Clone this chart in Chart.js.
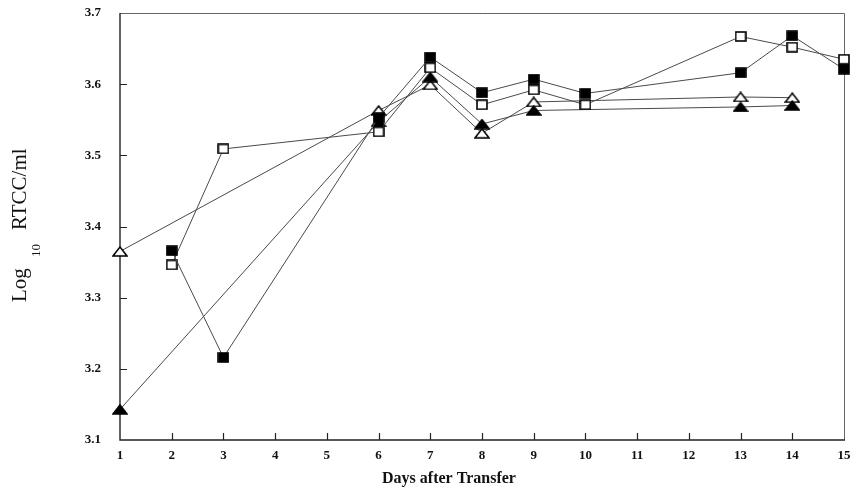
<!DOCTYPE html>
<html>
<head>
<meta charset="utf-8">
<script src="https://cdn.jsdelivr.net/npm/chart.js@4/dist/chart.umd.min.js"></script>
<style>
  html, body { margin: 0; padding: 0; background: #fff; }
  #wrap { width: 853px; height: 490px; }
</style>
</head>
<body>
<div id="wrap"><canvas id="c" width="853" height="490"></canvas></div>
<script>
// Log10 RTCC/ml by day after transfer, four groups
const filledSqDays = [2, 3, 6, 7, 8, 9, 10, 13, 14, 15];
const filledSqVals = [3.366, 3.216, 3.553, 3.638, 3.588, 3.607, 3.587, 3.616, 3.668, 3.621];

const openSqDays = [2, 3, 6, 7, 8, 9, 10, 13, 14, 15];
const openSqVals = [3.346, 3.509, 3.533, 3.623, 3.571, 3.592, 3.571, 3.667, 3.652, 3.635];

const openTriDays = [1, 6, 7, 8, 9, 13, 14];
const openTriVals = [3.365, 3.563, 3.599, 3.531, 3.575, 3.582, 3.581];

const filledTriDays = [1, 6, 7, 8, 9, 13, 14];
const filledTriVals = [3.143, 3.547, 3.610, 3.544, 3.563, 3.568, 3.570];

const dayTicks = [1, 2, 3, 4, 5, 6, 7, 8, 9, 10, 11, 12, 13, 14, 15];
const logTicks = [3.1, 3.2, 3.3, 3.4, 3.5, 3.6, 3.7];

const pairs = (xs, ys) => xs.map((d, i) => ({ x: d, y: ys[i] }));

// marker sprites
function squareMarker(filled) {
  const c = document.createElement('canvas');
  c.width = 12; c.height = 11;
  const g = c.getContext('2d');
  g.fillStyle = filled ? '#000' : '#fff';
  g.fillRect(1, 1, 10, 9);
  g.strokeStyle = '#000';
  g.lineWidth = 1.6;
  g.strokeRect(1, 1, 10, 9);
  return c;
}
function triangleMarker(filled) {
  const c = document.createElement('canvas');
  c.width = 16; c.height = 11;
  const g = c.getContext('2d');
  g.beginPath();
  g.moveTo(8, 1); g.lineTo(15, 10); g.lineTo(1, 10); g.closePath();
  g.fillStyle = filled ? '#000' : '#fff';
  g.fill();
  g.strokeStyle = '#000';
  g.lineWidth = 1.5;
  g.lineJoin = 'miter';
  g.stroke();
  return c;
}

const lineColor = '#4a4a4a';
function series(label, xs, ys, marker) {
  return {
    label,
    data: pairs(xs, ys),
    borderColor: lineColor,
    borderWidth: 1,
    pointStyle: marker,
    pointRadius: 6,
    pointHoverRadius: 6,
    tension: 0,
    fill: false,
    clip: false
  };
}

const serif = '"Liberation Serif", "DejaVu Serif", serif';

const framePlugin = {
  id: 'frame',
  beforeDatasetsDraw(chart) {
    const { ctx, chartArea: a, scales } = chart;
    const xs = scales.x, ys = scales.y;
    ctx.save();
    // top and right border
    ctx.strokeStyle = '#666';
    ctx.lineWidth = 1;
    ctx.beginPath();
    ctx.moveTo(a.left, a.top + 0.5);
    ctx.lineTo(a.right + 0.5, a.top + 0.5);
    ctx.lineTo(a.right + 0.5, a.bottom);
    ctx.stroke();
    // axes
    ctx.strokeStyle = '#222';
    ctx.lineWidth = 1.4;
    ctx.beginPath();
    ctx.moveTo(a.left, a.top);
    ctx.lineTo(a.left, a.bottom);
    ctx.lineTo(a.right + 1, a.bottom);
    ctx.stroke();
    // inward tick marks
    ctx.lineWidth = 1.2;
    ctx.beginPath();
    dayTicks.slice(1, -1).forEach(d => {
      const px = Math.round(xs.getPixelForValue(d)) + 0.5;
      ctx.moveTo(px, a.bottom);
      ctx.lineTo(px, a.bottom - 7);
    });
    logTicks.slice(1, -1).forEach(v => {
      const py = Math.round(ys.getPixelForValue(v)) + 0.5;
      ctx.moveTo(a.left, py);
      ctx.lineTo(a.left + 7, py);
    });
    ctx.stroke();
    ctx.restore();
  },
  afterDraw(chart) {
    const { ctx } = chart;
    ctx.save();
    ctx.fillStyle = '#111';
    // x-axis title
    ctx.font = 'bold 16px ' + serif;
    ctx.textAlign = 'center';
    ctx.textBaseline = 'alphabetic';
    ctx.fillText('Days after Transfer', 449, 483);
    // y-axis title with subscript
    ctx.translate(26, 302);
    ctx.rotate(-Math.PI / 2);
    ctx.textAlign = 'left';
    ctx.font = '21px ' + serif;
    ctx.fillText('Log', 0, 0);
    ctx.font = '13px ' + serif;
    ctx.fillText('10', 45, 14);
    ctx.font = '21px ' + serif;
    ctx.fillText('RTCC/ml', 72, 0);
    ctx.restore();
  }
};

new Chart(document.getElementById('c'), {
  type: 'line',
  data: {
    datasets: [
      series('filled square', filledSqDays, filledSqVals, squareMarker(true)),
      series('open square', openSqDays, openSqVals, squareMarker(false)),
      series('filled triangle', filledTriDays, filledTriVals, triangleMarker(true)),
      series('open triangle', openTriDays, openTriVals, triangleMarker(false))
    ]
  },
  options: {
    responsive: false,
    devicePixelRatio: 1,
    animation: false,
    events: [],
    layout: { padding: { top: 13, right: 9, left: 0, bottom: 0 } },
    plugins: { legend: { display: false }, tooltip: { enabled: false } },
    scales: {
      x: {
        type: 'linear',
        min: 1,
        max: 15,
        grid: { display: false, drawTicks: false },
        border: { display: false },
        afterBuildTicks: s => { s.ticks = dayTicks.map(v => ({ value: v })); },
        afterFit: s => { s.height = 50; s.paddingLeft = 0; s.paddingRight = 0; },
        ticks: {
          padding: 8,
          color: '#111',
          font: { family: serif, weight: 'bold', size: 13 },
          callback: v => String(v),
          maxRotation: 0
        }
      },
      y: {
        type: 'linear',
        min: 3.1,
        max: 3.7,
        grid: { display: false, drawTicks: false },
        border: { display: false },
        afterBuildTicks: s => { s.ticks = logTicks.map(v => ({ value: v })); },
        afterFit: s => { s.width = 120; s.paddingTop = 0; s.paddingBottom = 0; },
        ticks: {
          padding: 19,
          color: '#111',
          font: { family: serif, weight: 'bold', size: 13 },
          callback: v => Number(v).toFixed(1)
        }
      }
    }
  },
  plugins: [framePlugin]
});
</script>
</body>
</html>
